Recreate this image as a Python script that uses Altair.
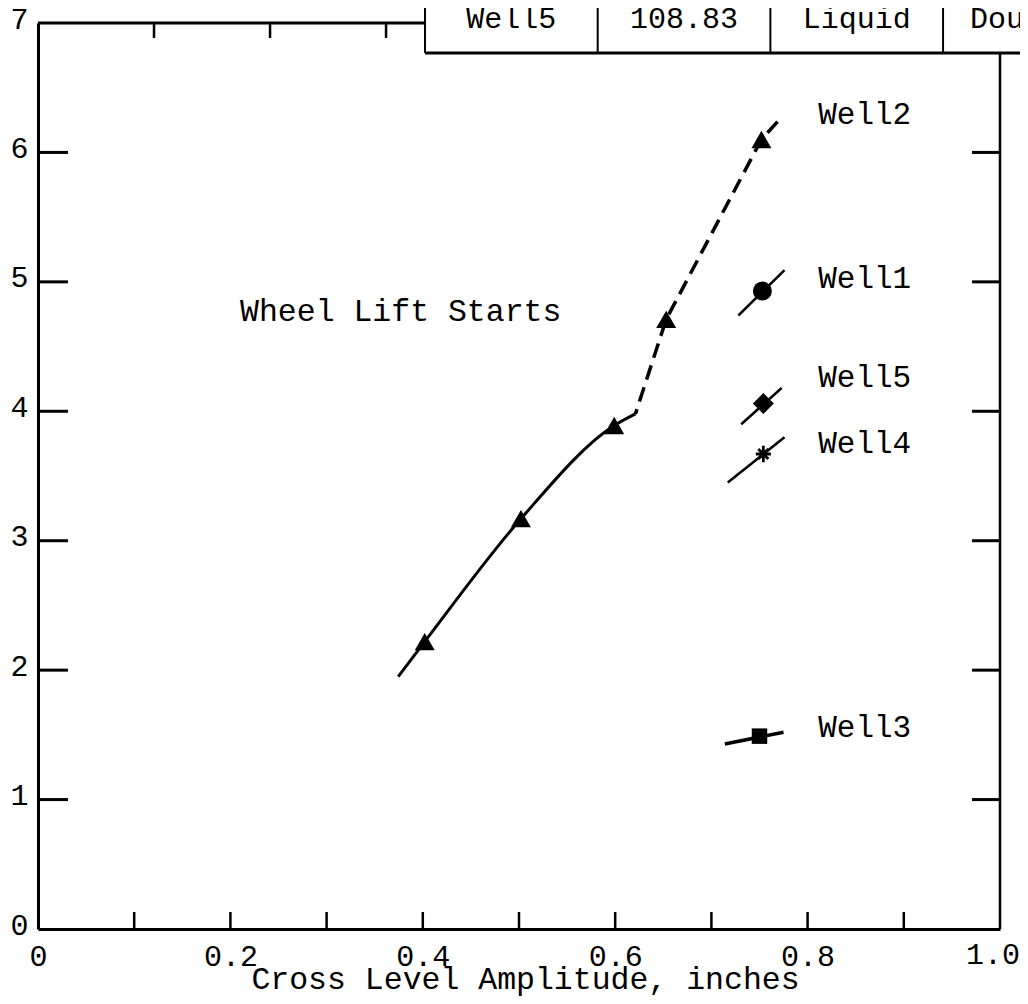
import altair as alt
import pandas as pd

FONT = "Liberation Mono"

# ---------------- data ----------------
# Well2 (triangles, measured points)
well2_x = [0.402, 0.502, 0.599, 0.653, 0.752]
well2_y = [2.22, 3.17, 3.89, 4.71, 6.10]
# Well2 fitted curve: solid part and dashed part
solid_x = [0.3745, 0.402, 0.502, 0.599, 0.621]
solid_y = [1.95, 2.22, 3.17, 3.89, 3.98]
dash_x = [0.621, 0.653, 0.752, 0.769]
dash_y = [3.98, 4.71, 6.10, 6.24]

# other wells (single points with short trend segments)
wells = ["Well1", "Well5", "Well4", "Well3"]
well_x = [0.753, 0.754, 0.754, 0.750]
well_y = [4.93, 4.06, 3.67, 1.49]
seg_x0 = [0.728, 0.731, 0.717, 0.714]
seg_y0 = [4.74, 3.90, 3.45, 1.43]
seg_x1 = [0.776, 0.773, 0.776, 0.775]
seg_y1 = [5.09, 4.18, 3.80, 1.52]

# labels
label_names = ["Well2", "Well1", "Well5", "Well4", "Well3"]
label_y = [6.29, 5.02, 4.26, 3.75, 1.55]
label_x = [0.811, 0.811, 0.811, 0.811, 0.811]
note_text = ["Wheel Lift Starts"]
note_x = [0.21]
note_y = [4.77]

# table fragment at the top
table_cells = ["Well5", "108.83", "Liquid"]
table_last = ["Dou"]

# axes
x_tick_labels = [0, 0.2, 0.4, 0.6, 0.8, 1.0]
x_minor = [0.1, 0.2, 0.3, 0.4, 0.5, 0.6, 0.7, 0.8, 0.9]
y_tick_labels = [0, 1, 2, 3, 4, 5, 6, 7]
y_minor = [1, 2, 3, 4, 5, 6]
top_ticks = [0.1206, 0.2412, 0.3618]

# ---------------- layout ----------------
W, H = 962, 906
table_left = 0.4023
col_w = 0.1795
table_edges = [table_left + i * col_w for i in range(4)]

xs = alt.Scale(domain=[0, 1], nice=False, zero=True)
ys = alt.Scale(domain=[0, 7], nice=False, zero=True)

x_axis = alt.Axis(
    values=x_tick_labels,
    # the last label ("1.0") is drawn separately so it stays inside the page
    labelExpr="datum.value == 0 ? '0' : (datum.value >= 1 ? '' : format(datum.value, '.1f'))",
    ticks=False, tickSize=0, grid=False,
    domainWidth=3, domainColor="black",
    labelFont=FONT, labelFontSize=30, labelColor="black",
    labelPadding=12, labelFlush=False, labelOverlap=False,
    title="Cross Level Amplitude, inches",
    titleFont=FONT, titleFontSize=31.5, titleFontWeight="normal", titleColor="black",
    titleBaseline="alphabetic", titleX=487, titleY=59,
)
y_axis = alt.Axis(
    values=y_tick_labels, format="d",
    ticks=False, tickSize=0, grid=False,
    domainWidth=3, domainColor="black",
    labelFont=FONT, labelFontSize=30, labelColor="black",
    labelPadding=10, labelFlush=False, labelOverlap=False,
    labelBaseline="middle", labelOffset=-4,
    title=None,
)


def xq(f="x"):
    return alt.X(f"{f}:Q", scale=xs, axis=x_axis)


def yq(f="y"):
    return alt.Y(f"{f}:Q", scale=ys, axis=y_axis)


df_solid = pd.DataFrame({"x": solid_x, "y": solid_y})
df_dash = pd.DataFrame({"x": dash_x, "y": dash_y})
df_w2 = pd.DataFrame({"x": well2_x, "y": well2_y})

solid_line = alt.Chart(df_solid).mark_line(
    color="black", strokeWidth=3, interpolate="monotone"
).encode(x=xq(), y=yq())

dash_line = alt.Chart(df_dash).mark_line(
    color="black", strokeWidth=3.5, strokeDash=[15, 8], strokeDashOffset=10, interpolate="linear"
).encode(x=xq(), y=yq())

tri = alt.Chart(df_w2).mark_point(
    shape="triangle-up", filled=True, size=400, color="black", opacity=1
).encode(x=xq(), y=yq())

# segments for the other wells
seg_rows = []
for i, w in enumerate(wells):
    seg_rows.append({"well": w, "x": seg_x0[i], "y": seg_y0[i]})
    seg_rows.append({"well": w, "x": seg_x1[i], "y": seg_y1[i]})
df_seg = pd.DataFrame(seg_rows)
seg_widths = {"Well1": 2.5, "Well5": 2.5, "Well4": 2.5, "Well3": 3.5}
seg_layers = []
for w in wells:
    seg_layers.append(
        alt.Chart(df_seg[df_seg.well == w]).mark_line(color="black", strokeWidth=seg_widths[w])
        .encode(x=xq(), y=yq())
    )

asterisk = "M0,-1L0,1M-0.9,0L0.9,0M-0.6,-0.6L0.6,0.6M-0.6,0.6L0.6,-0.6"
marker_style = {
    "Well1": dict(shape="circle", filled=True, size=360),
    "Well5": dict(shape="diamond", filled=True, size=440),
    "Well4": dict(shape=asterisk, filled=False, size=280, strokeWidth=2.8),
    "Well3": dict(shape="square", filled=True, size=240),
}
df_wells = pd.DataFrame({"well": wells, "x": well_x, "y": well_y})
marker_layers = []
for w in wells:
    marker_layers.append(
        alt.Chart(df_wells[df_wells.well == w]).mark_point(color="black", opacity=1, **marker_style[w])
        .encode(x=xq(), y=yq())
    )

df_labels = pd.DataFrame({"t": label_names, "x": label_x, "y": label_y})
labels = alt.Chart(df_labels).mark_text(
    font=FONT, fontSize=31, align="left", baseline="middle", color="black"
).encode(x=xq(), y=yq(), text="t:N")

df_note = pd.DataFrame({"t": note_text, "x": note_x, "y": note_y})
note = alt.Chart(df_note).mark_text(
    font=FONT, fontSize=31.5, align="left", baseline="middle", color="black"
).encode(x=xq(), y=yq(), text="t:N")

# last x tick label, kept inside the page edge
df_last_lab = pd.DataFrame({"x": [x_tick_labels[-1]], "t": ["1.0"]})
last_xlabel = alt.Chart(df_last_lab).mark_text(
    font=FONT, fontSize=30, align="right", baseline="alphabetic", color="black", dx=20
).encode(x=xq(), y=alt.value(H + 35), text="t:N")

# inward ticks
left_ticks = alt.Chart(pd.DataFrame({"y": y_minor})).mark_rule(color="black", strokeWidth=3).encode(
    y=yq(), x=alt.value(0), x2=alt.value(30))
right_ticks = alt.Chart(pd.DataFrame({"y": y_minor})).mark_rule(color="black", strokeWidth=3).encode(
    y=yq(), x=alt.value(W - 28), x2=alt.value(W))
bottom_ticks = alt.Chart(pd.DataFrame({"x": x_minor})).mark_rule(color="black", strokeWidth=2.5).encode(
    x=xq(), y=alt.value(H), y2=alt.value(H - 17))
top_tick_marks = alt.Chart(pd.DataFrame({"x": top_ticks})).mark_rule(color="black", strokeWidth=2.5).encode(
    x=xq(), y=alt.value(0), y2=alt.value(15))

# partial frame: top line up to the table, right line below the table
top_line = alt.Chart(pd.DataFrame({"x": [0.0], "b": [table_left]})).mark_rule(color="black", strokeWidth=3).encode(
    x=xq(), x2="b:Q", y=alt.value(0))
right_line = alt.Chart(pd.DataFrame({"a": [0]})).mark_rule(color="black", strokeWidth=2.5).encode(
    x=alt.value(W), y=alt.value(30), y2=alt.value(H))

# table fragment
table_bottom = alt.Chart(pd.DataFrame({"x": [table_left]})).mark_rule(color="black", strokeWidth=3).encode(
    x=xq(), x2=alt.value(W + 60), y=alt.value(30))
table_vlines = alt.Chart(pd.DataFrame({"x": table_edges})).mark_rule(color="black", strokeWidth=2).encode(
    x=xq(), y=alt.value(-30), y2=alt.value(30))
df_cells = pd.DataFrame({"t": table_cells, "x": [e + col_w / 2 for e in table_edges[:3]]})
table_text = alt.Chart(df_cells).mark_text(
    font=FONT, fontSize=30, align="center", baseline="alphabetic", color="black"
).encode(x=xq(), y=alt.value(5), text="t:N")
df_last = pd.DataFrame({"t": table_last, "x": [table_edges[3]]})
table_text_last = alt.Chart(df_last).mark_text(
    font=FONT, fontSize=30, align="left", baseline="alphabetic", color="black", dx=27
).encode(x=xq(), y=alt.value(5), text="t:N")

chart = alt.layer(
    solid_line, dash_line, tri, *seg_layers, *marker_layers, labels, note, last_xlabel,
    left_ticks, right_ticks, bottom_ticks, top_tick_marks,
    top_line, right_line, table_bottom, table_vlines, table_text, table_text_last,
).properties(
    width=W, height=H,
    padding={"left": 30, "top": 15, "right": 20, "bottom": 67},
    autosize=alt.AutoSizeParams(type="none"),
    background="white",
).configure_view(stroke=None)

chart.save("out.html", embed_options={"renderer": "svg", "actions": False})
